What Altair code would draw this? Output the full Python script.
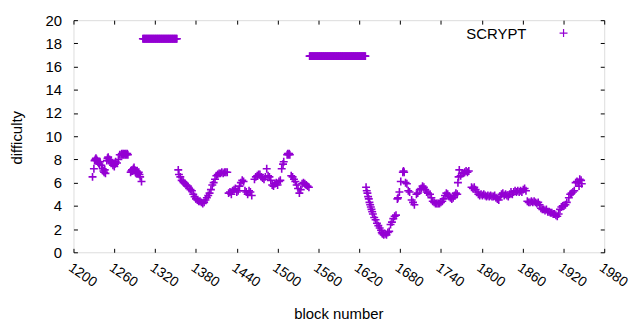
import altair as alt
import pandas as pd

# main series (block number, difficulty)
blocks_a = [1228, 1230, 1231, 1232, 1233, 1234, 1235, 1236, 1237, 1238, 1239, 1241, 1243, 1244, 1245, 1246, 1247,
            1249, 1250, 1251, 1252, 1253, 1254, 1255, 1256, 1258, 1260, 1261, 1262, 1264, 1266, 1268, 1270, 1271,
            1272, 1273, 1274, 1275, 1276, 1277, 1278, 1279, 1280, 1284, 1285, 1286, 1287, 1288, 1289, 1290, 1291,
            1292, 1293, 1294, 1295, 1296, 1297, 1298, 1300]
diff_a = [6.5, 7.2, 7.9, 8.0, 8.1, 8.0, 7.9, 7.8, 7.7, 7.6, 7.8, 7.5, 7.2, 7.0, 6.9, 7.1, 6.8,
          7.9, 8.1, 8.2, 7.9, 8.0, 7.8, 7.9, 7.7, 7.5, 7.4, 7.6, 7.8, 7.7, 8.0, 8.4, 8.4, 8.5,
          8.4, 8.5, 8.4, 8.5, 8.4, 8.5, 8.4, 8.5, 8.4, 6.9, 7.0, 7.1, 7.0, 7.2, 7.3, 7.1, 6.9,
          6.8, 7.0, 6.9, 6.8, 6.9, 6.7, 6.5, 6.1]

blocks_b = [1354, 1355, 1357, 1359, 1361, 1362, 1364, 1366, 1368, 1370, 1372, 1374, 1376, 1378, 1380, 1382, 1384,
            1386, 1388, 1390, 1392, 1394, 1396, 1398, 1400, 1402, 1404, 1406, 1408, 1410, 1412, 1414, 1416, 1418,
            1420, 1422, 1424, 1426, 1428, 1430, 1432, 1434, 1436, 1438, 1440, 1442, 1444, 1446, 1448, 1450, 1452,
            1454, 1456, 1458, 1460, 1462]
diff_b = [7.1, 6.7, 6.5, 6.2, 6.1, 6.0, 5.9, 5.8, 5.7, 5.5, 5.4, 5.3, 5.0, 4.8, 4.6, 4.5, 4.4,
          4.4, 4.3, 4.2, 4.3, 4.5, 4.7, 4.9, 5.1, 5.4, 5.8, 6.0, 6.3, 6.6, 6.7, 6.8, 6.8, 6.9,
          6.8, 6.9, 6.9, 6.9, 5.1, 5.2, 5.0, 5.3, 5.4, 5.5, 5.2, 5.3, 5.7, 6.0, 6.2, 6.1, 5.3,
          5.2, 5.0, 5.3, 5.2, 4.9]

blocks_c = [1466, 1468, 1470, 1472, 1474, 1476, 1478, 1480, 1482, 1484, 1486, 1488, 1490, 1492, 1494, 1496, 1498,
            1500, 1502, 1504, 1506, 1508, 1509, 1514, 1515, 1516, 1517, 1518, 1520, 1522, 1524, 1526, 1528, 1530,
            1532, 1534, 1536, 1538, 1540, 1542, 1544, 1546]
diff_c = [6.3, 6.5, 6.6, 6.7, 6.7, 6.5, 6.4, 6.3, 6.5, 7.2, 6.6, 6.5, 6.2, 5.8, 5.7, 5.9, 6.0,
          5.8, 6.1, 6.2, 7.2, 7.6, 7.8, 8.4, 8.5, 8.4, 8.5, 8.4, 6.6, 6.5, 6.3, 6.1, 5.8, 5.5,
          5.1, 5.4, 5.9, 6.0, 5.9, 5.8, 5.7, 5.6]

blocks_d = [1630, 1631, 1632, 1633, 1634, 1635, 1636, 1637, 1638, 1639, 1640, 1642, 1644, 1646, 1648, 1650, 1652,
            1653, 1654, 1656, 1658, 1660, 1662, 1664, 1666, 1668, 1670, 1672, 1674, 1676, 1677, 1679, 1681, 1684,
            1685, 1686, 1688, 1690, 1692, 1694, 1697, 1699, 1701, 1704, 1706, 1709, 1711, 1713, 1715, 1717, 1719,
            1721, 1724, 1726, 1728, 1730, 1732, 1734, 1736, 1738, 1740, 1742]
diff_d = [5.6, 5.3, 5.1, 4.8, 4.6, 4.3, 4.1, 3.9, 3.7, 3.5, 3.3, 3.0, 2.8, 2.5, 2.3, 2.1, 1.9,
          1.7, 1.6, 1.5, 1.6, 1.5, 1.7, 1.8, 2.4, 2.6, 2.9, 3.1, 3.2, 4.6, 4.7, 5.2, 6.1, 6.9,
          7.0, 6.9, 6.0, 5.9, 5.3, 5.2, 4.5, 4.3, 4.1, 5.0, 5.1, 5.4, 5.5, 5.7, 5.6, 5.4, 5.2,
          5.1, 5.0, 4.7, 4.4, 4.3, 4.2, 4.2, 4.2, 4.2, 4.3, 4.4]

blocks_e = [1744, 1746, 1748, 1750, 1752, 1754, 1756, 1758, 1760, 1762, 1764, 1765, 1766, 1767, 1769, 1771, 1773,
            1775, 1777, 1779, 1781, 1785, 1787, 1789, 1791, 1793, 1795, 1797, 1799, 1801, 1803, 1805, 1807, 1809,
            1811, 1813, 1815, 1817, 1819, 1821, 1823, 1825, 1827, 1829, 1831, 1833, 1835, 1837, 1839, 1841, 1843,
            1845, 1847, 1849, 1851, 1853, 1855, 1857, 1859, 1861, 1863, 1865, 1867, 1869, 1871, 1873, 1875, 1877,
            1879, 1881, 1883, 1885, 1887, 1889, 1891, 1893, 1895, 1897, 1899, 1901, 1903, 1905, 1907, 1909, 1911,
            1913, 1915, 1917, 1919, 1921, 1923, 1925, 1928, 1930, 1932, 1934, 1936, 1938, 1940, 1942, 1943, 1944,
            1946, 1947]
diff_e = [4.6, 4.9, 5.1, 5.0, 4.8, 4.7, 4.6, 4.7, 4.9, 5.1, 5.0, 6.0, 6.5, 7.1, 6.6, 6.8, 6.8,
          6.9, 7.0, 6.9, 7.0, 5.6, 5.5, 5.6, 5.4, 5.2, 5.0, 4.9, 5.0, 4.9, 5.0, 4.9, 4.8, 4.9,
          4.8, 4.9, 4.8, 4.8, 4.9, 4.7, 4.6, 4.5, 4.8, 5.0, 5.1, 4.9, 5.0, 4.9, 4.8, 5.0, 5.2,
          5.0, 5.2, 5.3, 5.2, 5.3, 5.2, 5.3, 5.2, 5.4, 5.5, 5.3, 4.4, 4.3, 4.3, 4.4, 4.3, 4.4,
          4.3, 4.2, 4.3, 4.1, 3.8, 3.7, 3.7, 3.6, 3.7, 3.5, 3.5, 3.4, 3.4, 3.3, 3.3, 3.2, 3.1,
          3.3, 3.7, 3.9, 4.0, 4.0, 4.1, 4.3, 4.7, 5.0, 5.1, 5.2, 5.3, 6.0, 6.1, 6.0, 5.7, 6.3,
          6.2, 5.9]

# the two flat anomalous stretches
flat1_blocks = list(range(1302, 1353))
flat1_value = 18.4
flat2_blocks = list(range(1547, 1630))
flat2_value = 16.9

x_ticks = [1200, 1260, 1320, 1380, 1440, 1500, 1560, 1620, 1680, 1740, 1800, 1860, 1920, 1980]
y_ticks = [0, 2, 4, 6, 8, 10, 12, 14, 16, 18, 20]
series_name = "SCRYPT"

blocks = (blocks_a + flat1_blocks + blocks_b + blocks_c + flat2_blocks + blocks_d + blocks_e)
diffs = (diff_a + [flat1_value] * len(flat1_blocks) + diff_b + diff_c
         + [flat2_value] * len(flat2_blocks) + diff_d + diff_e)
df = pd.DataFrame({"block": blocks, "difficulty": diffs, "series": series_name, "key": series_name})

FONT = "Liberation Sans"
PURPLE = "#9400d3"
PLUS = "M-1,0H1M0,-1V1"

xscale = alt.Scale(domain=[1200, 1980], nice=False, zero=False)
yscale = alt.Scale(domain=[0, 20], nice=False)

main = alt.Chart(df).mark_point(shape=PLUS, filled=False, size=64, strokeWidth=1.6, opacity=1).encode(
    x=alt.X("block:Q", scale=xscale,
            axis=alt.Axis(orient="bottom", values=x_ticks, format="d", offset=-4, tickSize=4, domain=False,
                          labelAngle=35, labelAlign="left", labelBaseline="top", labelPadding=8,
                          labelFontSize=14, labelFont=FONT, labelColor="black", tickColor="black",
                          labelOverlap=False, labelBound=False, labelFlush=False,
                          title="block number", titleFont=FONT, titleFontSize=15, titleFontWeight="normal",
                          titleX=267, titleY=66, titleBaseline="middle", titleColor="black", grid=False)),
    y=alt.Y("difficulty:Q", scale=yscale,
            axis=alt.Axis(orient="left", values=y_ticks, offset=-4, tickSize=4, domain=False,
                          labelPadding=12, labelFontSize=15, labelFont=FONT, labelColor="black",
                          tickColor="black", title="difficulty", titleFont=FONT, titleFontSize=15,
                          titleFontWeight="normal", titleX=-61, titleY=118, titleAngle=270,
                          titleBaseline="middle", titleColor="black", grid=False)),
    color=alt.Color("series:N", scale=alt.Scale(range=[PURPLE]),
                    legend=alt.Legend(title=None, orient="none", legendX=489, legendY=8, padding=0,
                                      symbolType=PLUS, symbolSize=64, symbolStrokeWidth=1.2,
                                      symbolFillColor="transparent", labelExpr="''", labelFontSize=8)),
)

mirror = alt.Chart(df).mark_point(opacity=0).encode(
    x=alt.X("block:Q", scale=xscale,
            axis=alt.Axis(orient="top", values=x_ticks, offset=-4, tickSize=4, domain=False,
                          labels=False, title=None, tickColor="black", grid=False)),
    y=alt.Y("difficulty:Q", scale=yscale,
            axis=alt.Axis(orient="right", values=y_ticks, offset=-4, tickSize=4, domain=False,
                          labels=False, title=None, tickColor="black", grid=False)),
    shape=alt.Shape("key:N",
                    legend=alt.Legend(title=None, orient="none", legendX=381, legendY=6, padding=0,
                                      symbolSize=4, symbolOpacity=0, symbolStrokeWidth=0, labelOffset=0,
                                      labelFont=FONT, labelFontSize=15, labelColor="black")),
)

chart = alt.layer(main, mirror).resolve_axis(x="independent", y="independent").resolve_legend(
    color="independent", shape="independent").properties(
    width=535, height=234,
    autosize=alt.AutoSizeParams(type="none"),
    padding={"left": 66, "top": 11, "right": 28, "bottom": 69},
).configure_view(stroke="black", strokeWidth=1).configure(background="white")

chart.save("out.html", embed_options={"renderer": "svg", "actions": False})
